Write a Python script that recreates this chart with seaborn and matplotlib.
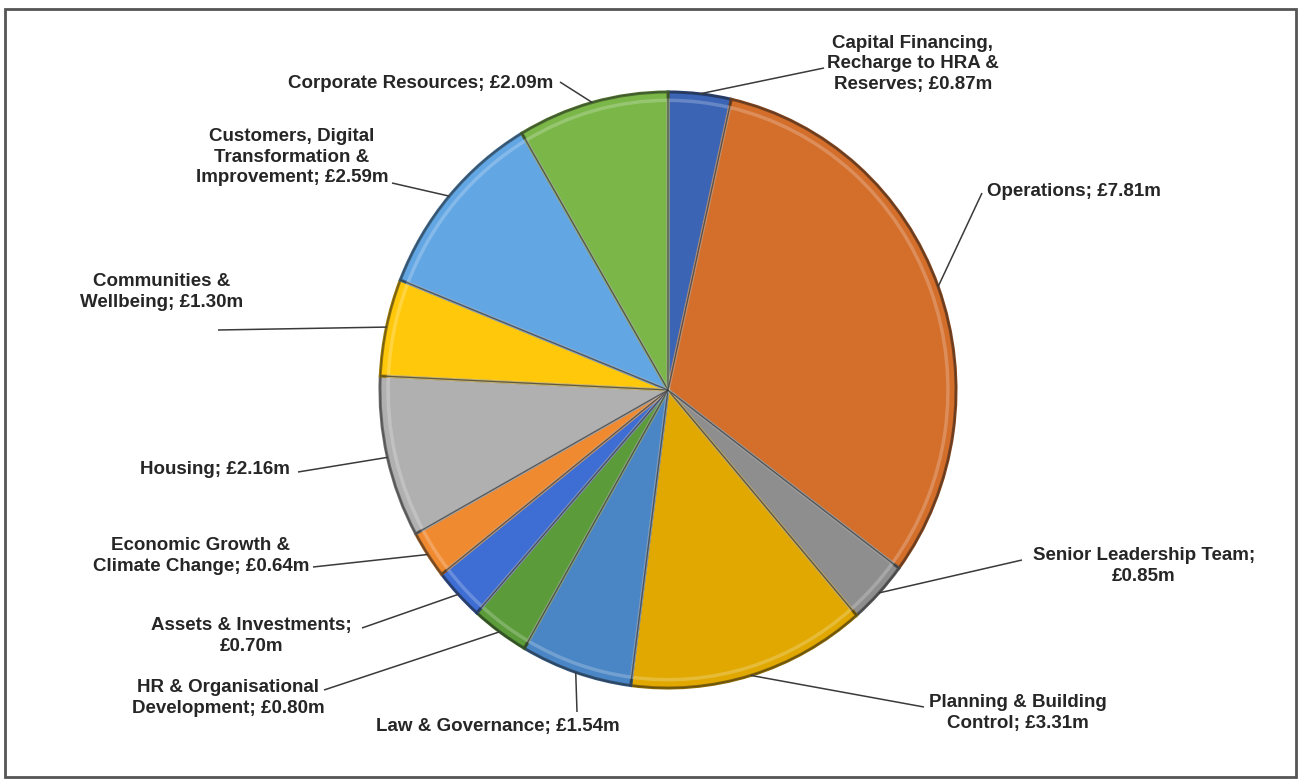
import numpy as np
import seaborn as sns
import matplotlib.pyplot as plt
from matplotlib.colors import to_rgb

sns.set_theme(style="white")
plt.rcParams['font.family'] = ['Liberation Sans', 'DejaVu Sans']

# spend by service area (GBP millions), clockwise from 12 o'clock
services = [
    "Capital Financing,\nRecharge to HRA &\nReserves",
    "Operations",
    "Senior Leadership Team;\n",
    "Planning & Building\nControl",
    "Law & Governance",
    "HR & Organisational\nDevelopment",
    "Assets & Investments;\n",
    "Economic Growth &\nClimate Change",
    "Housing",
    "Communities &\nWellbeing",
    "Customers, Digital\nTransformation &\nImprovement",
    "Corporate Resources",
]
spend = [0.87, 7.81, 0.85, 3.31, 1.54, 0.80, 0.70, 0.64, 2.16, 1.30, 2.59, 2.09]
colours = ["#3b64b5", "#d36e2b", "#8e8e8e", "#e0a800", "#4a86c5", "#5b9b3a",
           "#3e6ed3", "#f08a30", "#b0b0b0", "#ffc80a", "#62a6e3", "#7ab648"]

# label block centre and leader attach point, in pixel coords
label_xy = [(913, 64), (1074, 192), (1144, 566), (1018, 713), (498, 727), (228, 698),
            (251, 636), (201, 556), (215, 470), (162, 292), (292, 157), (421, 84)]
attach_xy = [(824, 68), (982, 193), (1022, 560), (924, 707), (577, 712), (324, 690),
             (362, 628), (313, 567), (298, 472), (218, 330), (392, 183), (560, 82)]

W, H = 1301, 781
cx, cy, rx, ry = 668, 390, 288, 298

fig = plt.figure(figsize=(W / 100, H / 100), dpi=100)
fig.patch.set_facecolor("white")

def shade(c, f):
    r, g, b = to_rgb(c)
    return (r * f, g * f, b * f)

ax_pie = fig.add_axes([(cx - rx) / W, (H - cy - ry) / H, 2 * rx / W, 2 * ry / H])
wedges, _ = ax_pie.pie(spend, colors=colours, startangle=90, counterclock=False,
                       wedgeprops=dict(linewidth=2.2))
# bevel look: darker rim per slice, soft inner highlight, thin dark seams
for w, c in zip(wedges, colours):
    w.set_edgecolor(shade(c, 0.62))
ax_pie.pie(spend, colors=["none"] * len(spend), startangle=90, counterclock=False, radius=0.972,
           wedgeprops=dict(facecolor="none", edgecolor=(1, 1, 1, 0.22), linewidth=2.5))
ax_pie.pie(spend, colors=["none"] * len(spend), startangle=90, counterclock=False,
           wedgeprops=dict(facecolor="none", edgecolor=(0.2, 0.2, 0.2, 0.45), linewidth=0.8))
ax_pie.set_aspect("auto")
ax_pie.set_xlim(-1, 1)
ax_pie.set_ylim(-1, 1)

ax = fig.add_axes([0, 0, 1, 1])
ax.set_xlim(0, W)
ax.set_ylim(H, 0)
ax.axis("off")
ax.patch.set_alpha(0)

for w, name, val, (tx, ty), (axx, ayy) in zip(wedges, services, spend, label_xy, attach_xy):
    mid = np.deg2rad((w.theta1 + w.theta2) / 2)
    ex = cx + rx * np.cos(mid)
    ey = cy - ry * np.sin(mid)
    ax.plot([ex, axx], [ey, ayy], color="#3a3a3a", lw=1.1, solid_capstyle="butt")
    if name.endswith("\n"):
        txt = f"{name}£{val:.2f}m"
    else:
        txt = f"{name}; £{val:.2f}m"
    ax.text(tx, ty, txt, ha="center", va="center", fontsize=13.5, fontweight="bold",
            color="#262626", linespacing=1.3)

ax.add_patch(plt.Rectangle((5, 9), 1291, 768, fill=False, edgecolor="#555555", lw=2))

fig.savefig("out.png", dpi=100, facecolor="white")
